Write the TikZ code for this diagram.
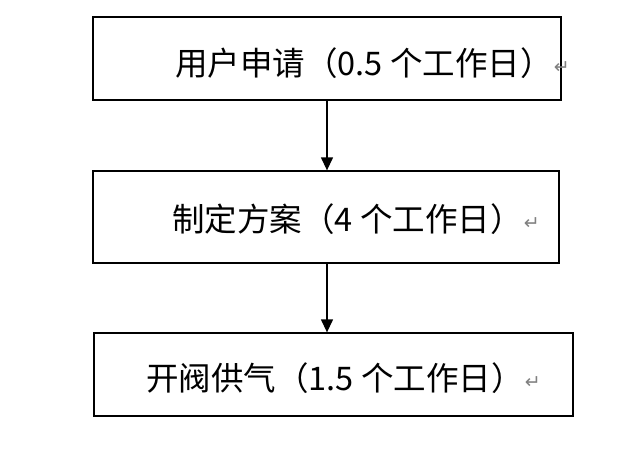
\documentclass[tikz,border=0pt]{standalone}
\usepackage{fontspec}
\setmainfont{Noto Sans CJK SC}
\newfontfamily\symfont{DejaVu Sans}
\usetikzlibrary{arrows.meta}
\begin{document}
\begin{tikzpicture}[x=1pt,y=-1pt,
  stagebox/.style={draw=black,line width=1.3pt,inner sep=0pt},
  stagetext/.style={anchor=west,inner sep=0pt,font=\fontsize{32.5}{36}\selectfont},
  retmark/.style={anchor=west,inner sep=0pt,xshift=1pt,yshift=-5pt,text=gray,font=\symfont\fontsize{19}{21}\selectfont},
  flow/.style={line width=1.3pt,-{Triangle[width=12pt,length=13pt]}}]
\useasboundingbox (0,0) rectangle (638,455);
\node[stagebox,minimum width=468pt,minimum height=83pt] (b1) at (327,58.5) {};
\node[stagebox,minimum width=466pt,minimum height=92pt] (b2) at (326,217) {};
\node[stagebox,minimum width=479pt,minimum height=83pt] (b3) at (333.5,374.5) {};
\node[stagetext] (t1) at (175,63) {用户申请（0.5 个工作日）};
\node[retmark] (r1) at (t1.east) {↵};
\node[stagetext] (t2) at (172,219) {制定方案（4 个工作日）};
\node[retmark] (r2) at (t2.east) {↵};
\node[stagetext] (t3) at (146,378) {开阀供气（1.5 个工作日）};
\node[retmark] (r3) at (t3.east) {↵};
\draw[flow] (b1.south -| 327,0) -- (b2.north -| 327,0);
\draw[flow] (b2.south -| 327,0) -- (b3.north -| 327,0);
\end{tikzpicture}
\end{document}
